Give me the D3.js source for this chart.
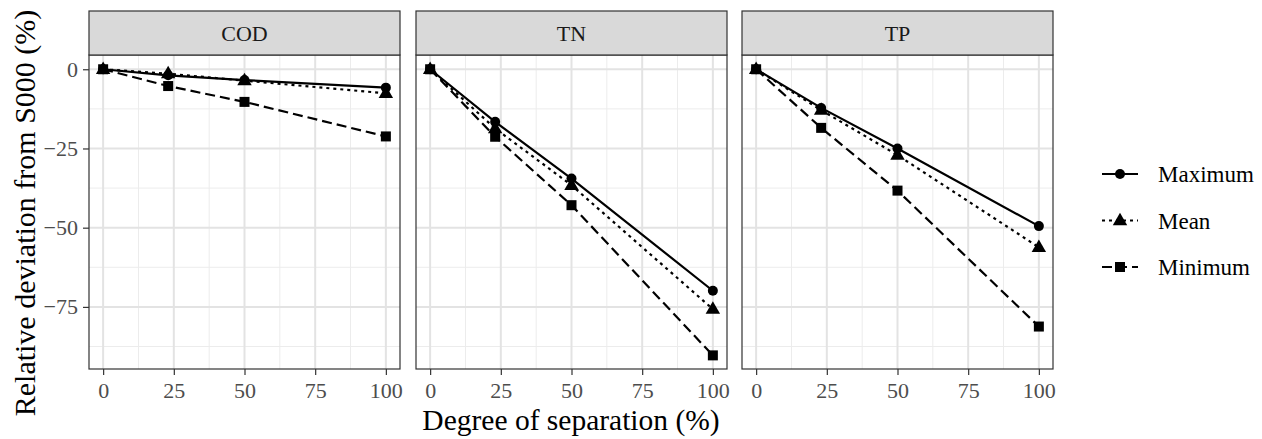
<!DOCTYPE html>
<html>
<head>
<meta charset="utf-8">
<script src="https://cdn.jsdelivr.net/npm/d3@7"></script>
<style>
  body { margin: 0; background: #fff; }
  text { font-family: "Liberation Serif", "Times New Roman", serif; }
</style>
</head>
<body>
<div id="cont"></div>
<script>
// data
var panels = ["COD", "TN", "TP"];
var separation = [0, 23, 50, 100];
var seriesNames = ["Maximum", "Mean", "Minimum"];
var codValues = {
  Maximum: [0, -1.9, -3.4, -5.8],
  Mean: [0, -1.4, -3.6, -7.6],
  Minimum: [0, -5.3, -10.3, -21.2]
};
var tnValues = {
  Maximum: [0, -16.6, -34.5, -69.9],
  Mean: [0, -18.7, -36.6, -75.7],
  Minimum: [0, -21.3, -42.9, -90.3]
};
var tpValues = {
  Maximum: [0, -12.2, -25.0, -49.5],
  Mean: [0, -12.9, -27.1, -56.2],
  Minimum: [0, -18.5, -38.3, -81.2]
};
var xTicks = [0, 25, 50, 75, 100];
var yTicks = [0, -25, -50, -75];

var panelData = [codValues, tnValues, tpValues];

// layout
var width = 1262, height = 439;
var panelLeft = [89, 416, 742], panelW = 311;
var stripTop = 11, stripH = 44, plotTop = 55, plotBottom = 369;

var svg = d3.select("#cont").append("svg")
    .attr("width", width)
    .attr("height", height);

var x = d3.scaleLinear().domain([-5, 105]).range([0, panelW]);
var y = d3.scaleLinear().domain([4.5, -94.6]).range([0, plotBottom - plotTop]);

var dashes = { Maximum: null, Mean: "3,4", Minimum: "10,5" };

var line = d3.line()
    .x(function(d) { return x(d.x); })
    .y(function(d) { return y(d.y); });

function drawMarker(g, name, cx, cy) {
  if (name === "Maximum") {
    g.append("circle").attr("cx", cx).attr("cy", cy).attr("r", 5).attr("fill", "#000");
  } else if (name === "Mean") {
    g.append("path")
      .attr("d", d3.symbol().type(d3.symbolTriangle).size(90)())
      .attr("transform", "translate(" + cx + "," + (cy + 0.5) + ")")
      .attr("fill", "#000");
  } else {
    g.append("rect").attr("x", cx - 5).attr("y", cy - 5)
      .attr("width", 10).attr("height", 10).attr("fill", "#000");
  }
}

panels.forEach(function(p, i) {
  var g = svg.append("g")
      .attr("transform", "translate(" + panelLeft[i] + "," + plotTop + ")");

  // strip
  svg.append("rect")
      .attr("x", panelLeft[i]).attr("y", stripTop)
      .attr("width", panelW).attr("height", stripH)
      .attr("fill", "#d9d9d9").attr("stroke", "#333").attr("stroke-width", 1.2);
  svg.append("text")
      .attr("x", panelLeft[i] + panelW / 2).attr("y", stripTop + stripH / 2)
      .attr("dy", "0.35em")
      .attr("text-anchor", "middle")
      .attr("font-size", 22)
      .attr("fill", "#1a1a1a")
      .text(p);

  // minor grid
  var xMinor = [12.5, 37.5, 62.5, 87.5], yMinor = [-12.5, -37.5, -62.5, -87.5];
  g.selectAll(".xminor").data(xMinor).enter().append("line")
      .attr("x1", function(d) { return x(d); }).attr("x2", function(d) { return x(d); })
      .attr("y1", 0).attr("y2", y.range()[1])
      .attr("stroke", "#ececec").attr("stroke-width", 1);
  g.selectAll(".yminor").data(yMinor).enter().append("line")
      .attr("y1", function(d) { return y(d); }).attr("y2", function(d) { return y(d); })
      .attr("x1", 0).attr("x2", panelW)
      .attr("stroke", "#ececec").attr("stroke-width", 1);
  // major grid
  g.selectAll(".xmajor").data(xTicks).enter().append("line")
      .attr("x1", function(d) { return x(d); }).attr("x2", function(d) { return x(d); })
      .attr("y1", 0).attr("y2", y.range()[1])
      .attr("stroke", "#e3e3e3").attr("stroke-width", 2);
  g.selectAll(".ymajor").data(yTicks).enter().append("line")
      .attr("y1", function(d) { return y(d); }).attr("y2", function(d) { return y(d); })
      .attr("x1", 0).attr("x2", panelW)
      .attr("stroke", "#e3e3e3").attr("stroke-width", 2);

  // lines and points
  var vals = panelData[i];
  seriesNames.forEach(function(name) {
    var pts = separation.map(function(s, k) { return { x: s, y: vals[name][k] }; });
    g.append("path")
        .datum(pts)
        .attr("d", line)
        .attr("fill", "none")
        .attr("stroke", "#000")
        .attr("stroke-width", 2.2)
        .attr("stroke-dasharray", dashes[name]);
    pts.forEach(function(d) { drawMarker(g, name, x(d.x), y(d.y)); });
  });

  // border
  g.append("rect")
      .attr("width", panelW).attr("height", y.range()[1])
      .attr("fill", "none").attr("stroke", "#333").attr("stroke-width", 1.2);

  // x axis
  var xAxis = g.append("g")
      .attr("transform", "translate(0," + y.range()[1] + ")")
      .call(d3.axisBottom(x).tickValues(xTicks).tickSize(6).tickPadding(7));
  xAxis.select(".domain").remove();
  xAxis.selectAll("line").attr("stroke", "#333").attr("stroke-width", 1.2);
  xAxis.selectAll("text").attr("font-size", 22).attr("fill", "#4d4d4d")
      .attr("font-family", "Liberation Serif");

  if (i === 0) {
    var yAxis = g.append("g")
        .call(d3.axisLeft(y).tickValues(yTicks).tickSize(6).tickPadding(5));
    yAxis.select(".domain").remove();
    yAxis.selectAll("line").attr("stroke", "#333").attr("stroke-width", 1.2);
    yAxis.selectAll("text").attr("font-size", 22).attr("fill", "#4d4d4d")
        .attr("font-family", "Liberation Serif");
  }
});

// axis titles
svg.append("text")
    .attr("transform", "translate(24,213) rotate(-90)")
    .attr("text-anchor", "middle")
    .attr("dy", "0.35em")
    .attr("font-size", 30)
    .text("Relative deviation from S000 (%)");
svg.append("text")
    .attr("x", 571).attr("y", 430)
    .attr("text-anchor", "middle")
    .attr("font-size", 29.5)
    .text("Degree of separation (%)");

// legend
var legend = svg.append("g").attr("transform", "translate(1102,174)");
seriesNames.forEach(function(name, k) {
  var ly = k * 46.5;
  legend.append("line")
      .attr("x1", 0).attr("x2", 36).attr("y1", ly).attr("y2", ly)
      .attr("stroke", "#000").attr("stroke-width", 2.2)
      .attr("stroke-dasharray", dashes[name]);
  drawMarker(legend, name, 18, ly);
  legend.append("text")
      .attr("x", 56).attr("y", ly).attr("dy", "0.35em")
      .attr("font-size", 23)
      .text(name);
});
</script>
</body>
</html>
